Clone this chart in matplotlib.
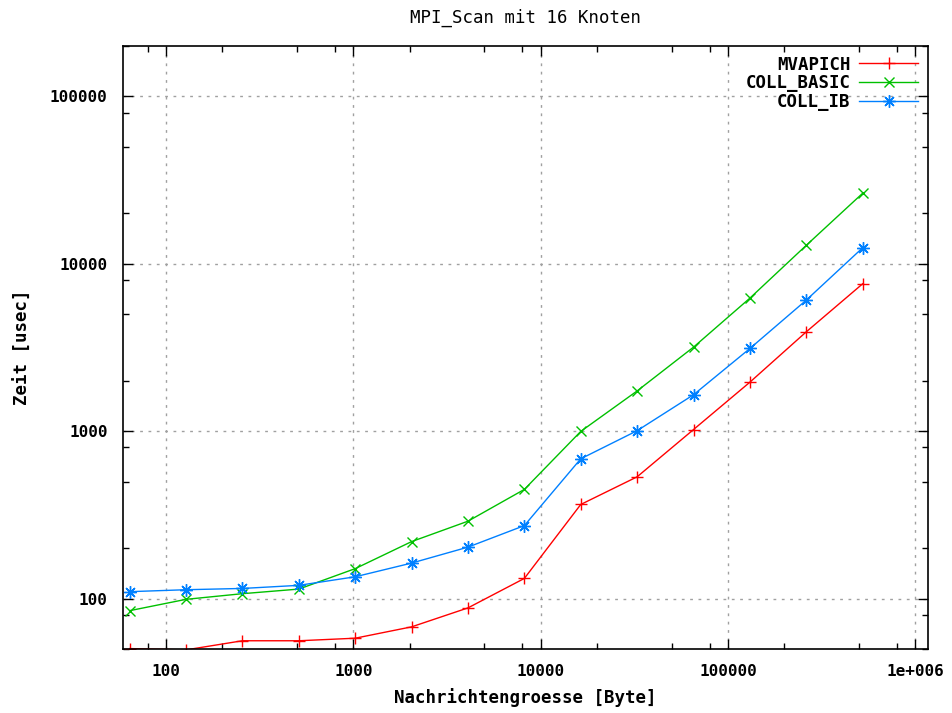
import matplotlib
matplotlib.use("Agg")
import matplotlib.pyplot as plt
from matplotlib.ticker import FixedLocator, NullFormatter

# Data
msg_sizes = [64, 128, 256, 512, 1024, 2048, 4096, 8192, 16384, 32768,
             65536, 131072, 262144, 524288]
mvapich = [50.3, 49.4, 56, 56, 58, 67.8, 88, 132, 365, 534,
           1023, 1963, 3924, 7600]
coll_basic = [84.7, 99, 107, 114, 151, 219, 290, 449, 997, 1740,
              3178, 6237, 12900, 26400]
coll_ib = [110, 113, 115, 120, 135, 163, 203, 273, 684, 1007,
           1651, 3120, 6070, 12470]

x_ticks = [100, 1000, 10000, 100000, 1000000]
x_tick_labels = ["100", "1000", "10000", "100000", "1e+006"]
y_ticks = [100, 1000, 10000, 100000]
y_tick_labels = ["100", "1000", "10000", "100000"]

title = "MPI_Scan mit 16 Knoten"
xlabel = "Nachrichtengroesse [Byte]"
ylabel = "Zeit [usec]"

font = "DejaVu Sans Mono"

fig = plt.figure(figsize=(9.53, 7.13), dpi=100)
ax = fig.add_axes([123/953, 64/713, (928-123)/953, (649-46)/713])

asterisk = (8, 2, 0)
ax.plot(msg_sizes, mvapich, color="#ff0000", lw=1.0, marker="+", ms=9, mew=1.0, label="MVAPICH")
ax.plot(msg_sizes, coll_basic, color="#00c000", lw=1.0, marker="x", ms=7.5, mew=1.0, label="COLL_BASIC")
ax.plot(msg_sizes, coll_ib, color="#0080ff", lw=1.0, marker=asterisk, ms=9, mew=1.0, label="COLL_IB")

ax.set_xscale("log")
ax.set_yscale("log")
ax.set_xlim(59, 1.17e6)
ax.set_ylim(50, 200000)

ax.xaxis.set_major_locator(FixedLocator(x_ticks))
ax.set_xticklabels(x_tick_labels)
ax.yaxis.set_major_locator(FixedLocator(y_ticks))
ax.set_yticklabels(y_tick_labels)

minor_x = [m * 10**e for e in range(1, 7) for m in (2, 5, 8)]
minor_y = [m * 10**e for e in range(1, 6) for m in (2, 5, 8)]
ax.xaxis.set_minor_locator(FixedLocator(minor_x))
ax.yaxis.set_minor_locator(FixedLocator(minor_y))
ax.xaxis.set_minor_formatter(NullFormatter())
ax.yaxis.set_minor_formatter(NullFormatter())

ax.tick_params(which="both", direction="in", top=True, right=True, color="black")
ax.tick_params(which="major", length=7, width=1.0, pad=11)
ax.tick_params(which="minor", length=4, width=1.0)
for lab in ax.get_xticklabels() + ax.get_yticklabels():
    lab.set_fontfamily(font)
    lab.set_fontweight("bold")
    lab.set_fontsize(11.5)

ax.grid(True, which="major", color="#a0a0a0", linestyle=(0, (2, 4)), lw=1.0)
for sp in ax.spines.values():
    sp.set_linewidth(1.2)
    sp.set_color("black")

ax.set_title(title, fontfamily=font, fontsize=12.5, pad=17)
ax.set_xlabel(xlabel, fontfamily=font, fontweight="bold", fontsize=12.5, labelpad=6)
ax.set_ylabel(ylabel, fontfamily=font, fontweight="bold", fontsize=12.5, labelpad=13)

leg = ax.legend(loc="upper right", frameon=False, markerfirst=False,
                prop={"family": font, "weight": "bold", "size": 12.5},
                handlelength=3.4, borderaxespad=0.15, labelspacing=0.03,
                handletextpad=0.5)

fig.savefig("out.png", dpi=100)
